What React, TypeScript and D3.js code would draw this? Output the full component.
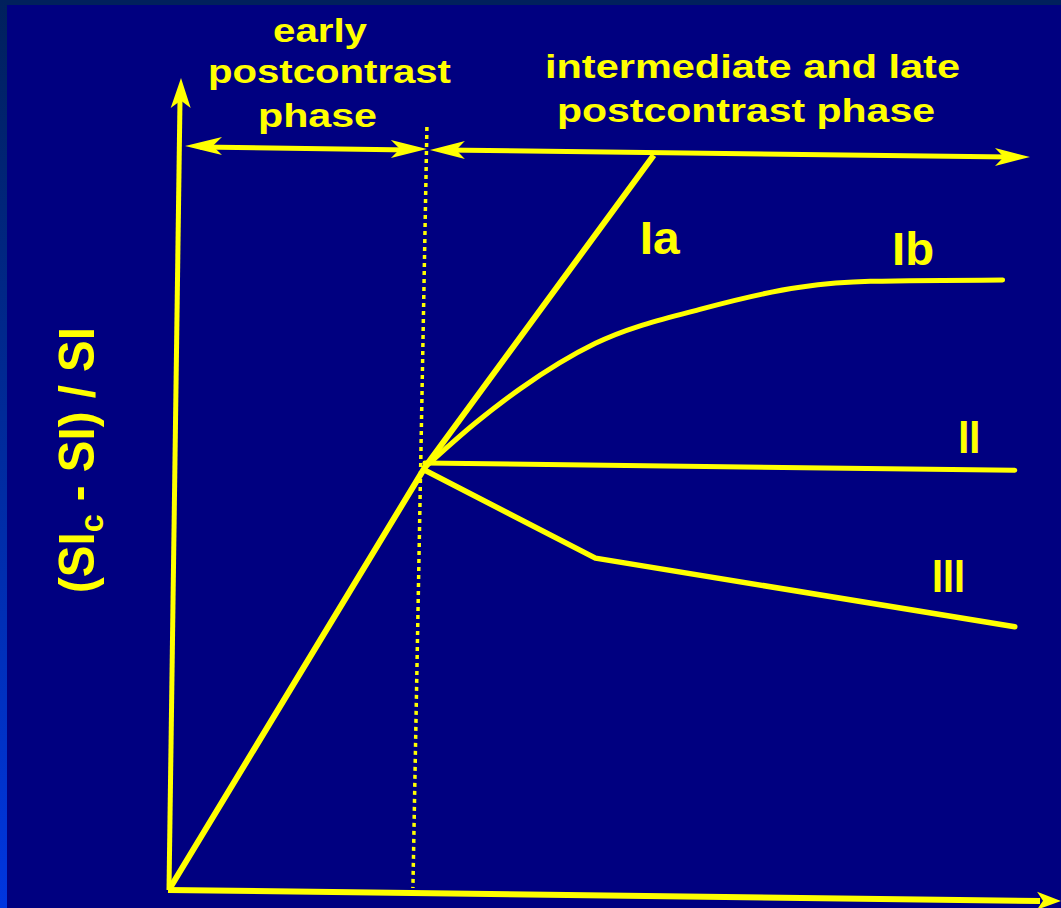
import React from "react";
import * as d3 from "d3";

// ---- data (time in arbitrary units, relative enhancement in arbitrary units) ----
const phaseBoundary = 2.93;
const seriesIa: [number, number][] = [[0, 0], [2.93, 5.7], [5.56, 9.93]];
const seriesIb: [number, number][] = [[2.93, 5.7], [3.51, 6.3], [4.02, 6.76], [4.89, 7.38], [6.09, 7.84], [7.24, 8.14], [8.05, 8.22], [9.57, 8.24]];
const seriesII: [number, number][] = [[2.93, 5.76], [9.71, 5.66]];
const seriesIII: [number, number][] = [[2.93, 5.66], [4.89, 4.47], [9.71, 3.54]];
const curveNames = ["Ia", "Ib", "II", "III"];
const labelPos: [number, number][] = [[5.4, 8.59], [8.3, 8.44], [9.06, 5.89], [8.76, 4.01]];
const labelWidths = [40, 42, 22, 33];

const W = 1061;
const H = 908;
const YEL = "#ffff00";
const FONT = "'Liberation Sans', Arial, Helvetica, sans-serif";

function head(tx: number, ty: number, angle: number, len: number, hw: number) {
  const c = Math.cos(angle), s = Math.sin(angle);
  const bx = tx - c * len, by = ty - s * len;
  const px = -s * hw, py = c * hw;
  return `${tx},${ty} ${bx + px},${by + py} ${bx + c * len * 0.25},${by + s * len * 0.25} ${bx - px},${by - py}`;
}

export default function App() {
  const x = d3.scaleLinear().domain([0, 10]).range([170, 1040]);
  const y = d3.scaleLinear().domain([0, 10]).range([888, 150]);
  const lin = d3.line<[number, number]>().x((d) => x(d[0])).y((d) => y(d[1]));
  const smooth = d3.line<[number, number]>().x((d) => x(d[0])).y((d) => y(d[1])).curve(d3.curveMonotoneX);

  const x0 = x(0), y0 = y(0);
  const xb = x(phaseBoundary);
  const topY = y(10);

  return (
    <svg width={W} height={H} style={{ position: "absolute", left: 0, top: 0 }}>
      <defs>
        <linearGradient id="side" x1="0" y1="0" x2="0" y2="1">
          <stop offset="0" stopColor="#00205c" />
          <stop offset="1" stopColor="#0036e0" />
        </linearGradient>
      </defs>
      <rect x={0} y={0} width={W} height={H} fill="#00205c" />
      <rect x={0} y={0} width={7} height={H} fill="url(#side)" />
      <rect x={7} y={5} width={W - 7} height={H - 5} fill="#000080" />

      {/* y axis */}
      <line x1={x0 - 1} y1={y0 + 2} x2={x0 + 10} y2={100} stroke={YEL} strokeWidth={5} />
      <polygon points={head(x0 + 11, 78, -Math.PI / 2 + 0.01, 30, 10)} fill={YEL} />
      {/* x axis */}
      <line x1={x0 - 2} y1={y0 + 2} x2={1040} y2={y0 + 13} stroke={YEL} strokeWidth={6} />
      <polygon points={head(W, y0 + 13, 0.01, 24, 9)} fill={YEL} />

      {/* phase boundary */}
      <line x1={xb + 2} y1={127} x2={xb - 12} y2={y0} stroke={YEL} strokeWidth={3.5} strokeDasharray="4 4" />

      {/* phase arrows */}
      <line x1={200} y1={topY - 3} x2={410} y2={topY} stroke={YEL} strokeWidth={5} />
      <polygon points={head(185, topY - 4, Math.PI, 37, 9)} fill={YEL} />
      <polygon points={head(xb + 2, topY - 1, 0, 36, 9)} fill={YEL} />
      <line x1={xb + 20} y1={topY} x2={1010} y2={topY + 7} stroke={YEL} strokeWidth={5} />
      <polygon points={head(xb + 5, topY, Math.PI, 35, 9)} fill={YEL} />
      <polygon points={head(1030, topY + 7, 0, 35, 9)} fill={YEL} />

      {/* curves */}
      <path d={lin(seriesIa) || ""} fill="none" stroke={YEL} strokeWidth={6} strokeLinejoin="round" />
      <path d={smooth(seriesIb) || ""} fill="none" stroke={YEL} strokeWidth={5} strokeLinecap="round" />
      <path d={lin(seriesII) || ""} fill="none" stroke={YEL} strokeWidth={5} strokeLinecap="round" />
      <path d={lin(seriesIII) || ""} fill="none" stroke={YEL} strokeWidth={5.5} strokeLinecap="round" strokeLinejoin="round" />

      {curveNames.map((n, i) => (
        <text key={n} x={x(labelPos[i][0])} y={y(labelPos[i][1])} fill={YEL} fontFamily={FONT} fontWeight="bold" fontSize={46}
          textLength={labelWidths[i]} lengthAdjust="spacingAndGlyphs">{n}</text>
      ))}

      {/* phase titles */}
      <g fill={YEL} fontFamily={FONT} fontWeight="bold" fontSize={34}>
        <text x={273} y={42} textLength={94} lengthAdjust="spacingAndGlyphs">early</text>
        <text x={208} y={83} textLength={243} lengthAdjust="spacingAndGlyphs">postcontrast</text>
        <text x={258} y={127} textLength={119} lengthAdjust="spacingAndGlyphs">phase</text>
        <text x={545} y={78} textLength={415} lengthAdjust="spacingAndGlyphs">intermediate and late</text>
        <text x={557} y={122} textLength={378} lengthAdjust="spacingAndGlyphs">postcontrast phase</text>
      </g>

      {/* y axis title */}
      <text transform="translate(94,593) rotate(-90)" fill={YEL} fontFamily={FONT} fontWeight="bold" fontSize={50}
        textLength={266} lengthAdjust="spacingAndGlyphs">
        (SI<tspan fontSize={34} dy={9}>c</tspan><tspan dy={-9}> - SI) / SI</tspan>
      </text>
    </svg>
  );
}
